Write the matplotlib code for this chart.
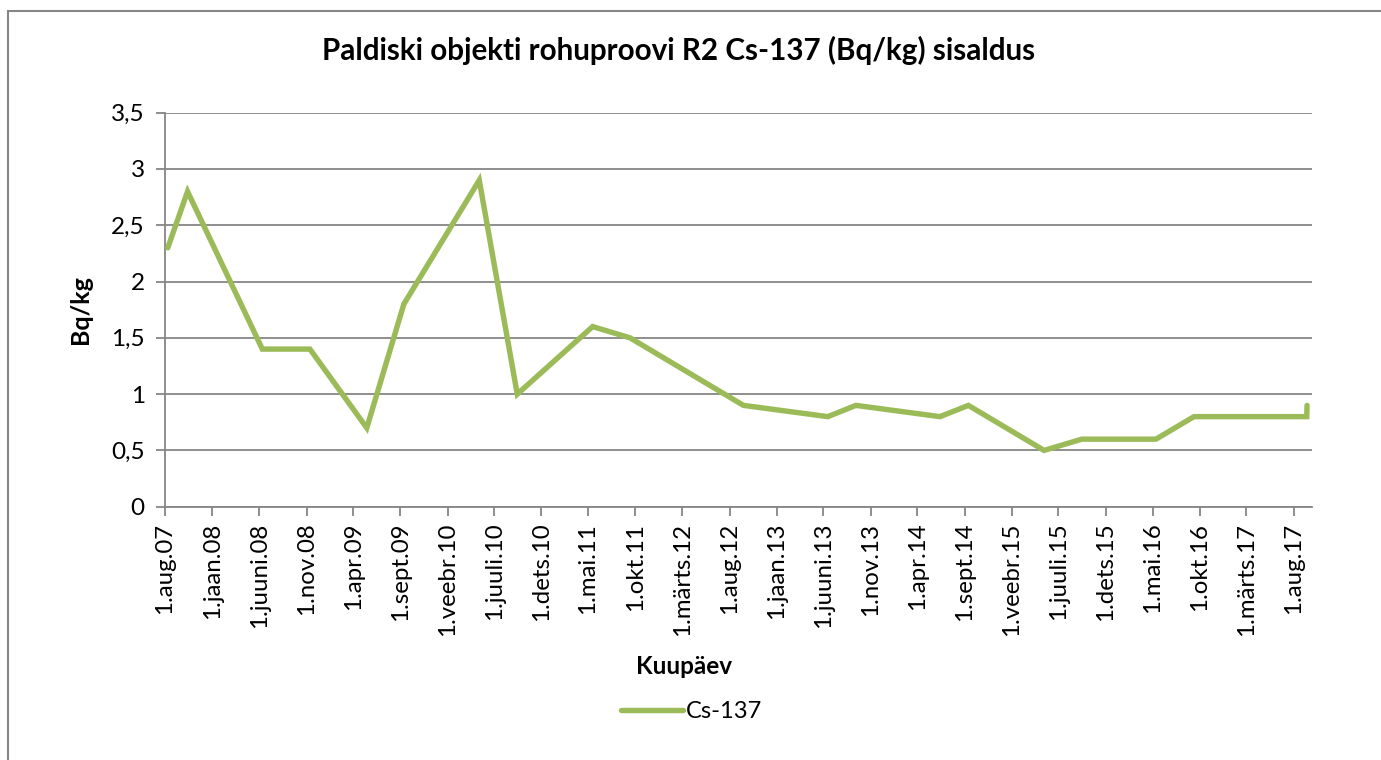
import matplotlib
matplotlib.use("Agg")
import matplotlib.pyplot as plt
from matplotlib.patches import Rectangle
import pandas as pd

# ---- data ----
dates = ["2007-08-10", "2007-10-13", "2008-06-11", "2008-11-12", "2009-05-15",
         "2009-09-12", "2010-05-14", "2010-09-14", "2011-05-16", "2011-09-14",
         "2012-09-15", "2013-06-15", "2013-09-14", "2014-06-13", "2014-09-13",
         "2015-05-16", "2015-09-15", "2016-05-12", "2016-09-12", "2017-09-12",
         "2017-09-13"]
cs137 = [2.3, 2.8, 1.4, 1.4, 0.7, 1.8, 2.9, 1.0, 1.6, 1.5,
         0.9, 0.8, 0.9, 0.8, 0.9, 0.5, 0.6, 0.6, 0.8, 0.8, 0.9]
months_et = ["jaan", "veebr", "märts", "apr", "mai", "juuni",
             "juuli", "aug", "sept", "okt", "nov", "dets"]
y_ticks = [0, 0.5, 1, 1.5, 2, 2.5, 3, 3.5]
y_tick_labels = ["0", "0,5", "1", "1,5", "2", "2,5", "3", "3,5"]
title = "Paldiski objekti rohuproovi R2 Cs-137 (Bq/kg) sisaldus"
series_name = "Cs-137"

x_start = "2007-08-01"
x_end = "2017-09-29"

FONT = ["Lato", "DejaVu Sans"]
plt.rcParams["font.family"] = FONT

W, H = 1381, 760
fig = plt.figure(figsize=(W / 100, H / 100), dpi=100)
fig.patch.set_facecolor("white")

# outer chart border (cut by right/bottom edges in reference)
fig.patches.append(Rectangle((8 / W, -0.05), 1.2, (H - 11) / H + 0.05,
                             transform=fig.transFigure, fill=False,
                             edgecolor="#868686", linewidth=1.5))

ax = fig.add_axes([165 / W, 1 - 506.7 / H, (1312 - 165) / W, (506.7 - 112.7) / H])

x = pd.to_datetime(dates)
ax.plot(x, cs137, color="#9BBB59", linewidth=3.9, solid_capstyle="round",
        solid_joinstyle="miter", label=series_name, zorder=3)

ax.set_xlim(pd.Timestamp(x_start), pd.Timestamp(x_end))
ax.set_ylim(0, 3.5)

tick_dates = pd.date_range(x_start, x_end, freq="5MS")
ax.set_xticks(tick_dates)
ax.set_xticklabels([f"1.{months_et[d.month - 1]}.{d.year % 100:02d}" for d in tick_dates],
                   rotation=90, fontsize=17.3)
ax.set_yticks(y_ticks)
ax.set_yticklabels(y_tick_labels, fontsize=17.5)

grid_c = "#868686"
ax.grid(axis="y", color=grid_c, linewidth=1.3)
ax.set_axisbelow(True)
for s in ["top", "right"]:
    ax.spines[s].set_visible(False)
for s in ["left", "bottom"]:
    ax.spines[s].set_color(grid_c)
    ax.spines[s].set_linewidth(1.3)
ax.tick_params(axis="both", color=grid_c, width=1.3, length=6.5, direction="out",
               labelcolor="black")
ax.tick_params(axis="y", pad=8)
ax.tick_params(axis="x", pad=5)

fig.text(679 / W, 1 - 50 / H, title, ha="center", va="center",
         fontsize=21.3, fontweight="bold")
fig.text(81 / W, 1 - 310 / H, "Bq/kg", ha="center", va="center", rotation=90,
         fontsize=18, fontweight="bold")
fig.text(684 / W, 1 - 667 / H, "Kuupäev", ha="center", va="center",
         fontsize=17.5, fontweight="bold")

leg = fig.legend(loc="center", bbox_to_anchor=(692 / W, 1 - 712 / H), frameon=False,
                 fontsize=17, handlelength=2.6, handletextpad=0.15)

fig.savefig("out.png", dpi=100, facecolor="white")
